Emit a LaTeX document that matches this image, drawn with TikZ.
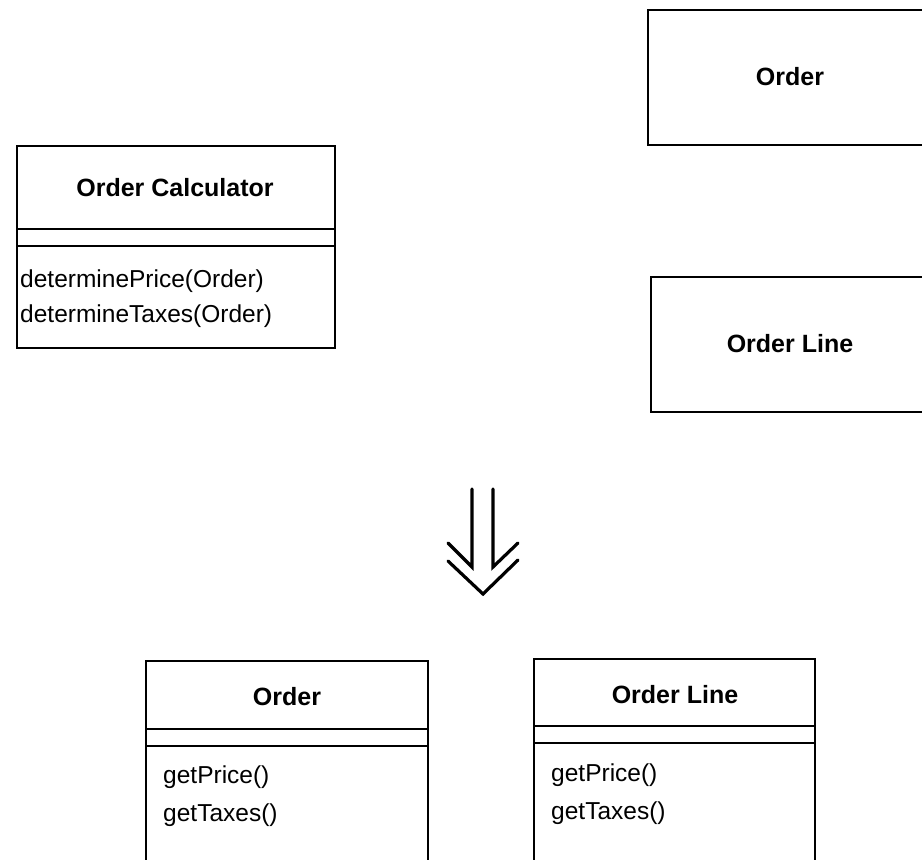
\documentclass[tikz,border=0pt]{standalone}
\usepackage{fontspec}
\setmainfont{Liberation Sans}
\begin{document}
\begin{tikzpicture}[x=1pt,y=-1pt,
  boxline/.style={draw, line width=1.7pt},
  titletext/.style={font=\bfseries\fontsize{25}{29}\selectfont, inner sep=0pt},
  methtext/.style={font=\fontsize{24.5}{35}\selectfont, inner sep=0pt, anchor=west},
  arrowline/.style={line width=3.2pt, line cap=round, line join=miter}]
\useasboundingbox (0,0) rectangle (922,860);
\clip (0,0) rectangle (922,860);
% Order Calculator
\draw[boxline] (17,146) rectangle (335,348);
\draw[boxline] (17,229) -- (335,229);
\draw[boxline] (17,246) -- (335,246);
\node[titletext] (calctitle) at (175,188) {Order Calculator};
\node[methtext] (calcm1) at (20,281) {determinePrice(Order)};
\node[methtext] (calcm2) at (20,316) {determineTaxes(Order)};
% top right Order
\draw[boxline] (648,10) rectangle (940,145);
\node[titletext] (ordertop) at (790,77) {Order};
% top right Order Line
\draw[boxline] (651,277) rectangle (940,412);
\node[titletext] (linetop) at (790,344) {Order Line};
% arrow
\draw[arrowline] (472,489) -- (472,567) -- (448,543);
\draw[arrowline] (493,489) -- (493,567) -- (518,543);
\draw[arrowline] (448,561) -- (483,594) -- (518,560);
% bottom Order
\draw[boxline] (146,661) rectangle (428,900);
\draw[boxline] (146,729) -- (428,729);
\draw[boxline] (146,746) -- (428,746);
\node[titletext] (orderbot) at (287,697) {Order};
\node[methtext] (orderm1) at (163,777) {getPrice()};
\node[methtext] (orderm2) at (163,815) {getTaxes()};
% bottom Order Line
\draw[boxline] (534,659) rectangle (815,900);
\draw[boxline] (534,726) -- (815,726);
\draw[boxline] (534,743) -- (815,743);
\node[titletext] (linebot) at (675,695) {Order Line};
\node[methtext] (linem1) at (551,775) {getPrice()};
\node[methtext] (linem2) at (551,813) {getTaxes()};
\end{tikzpicture}
\end{document}
